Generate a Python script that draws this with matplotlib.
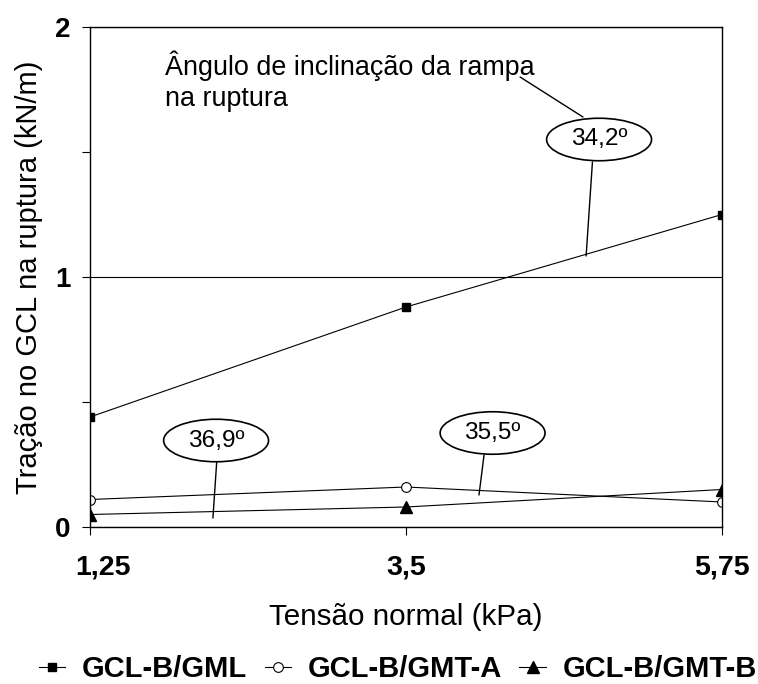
import numpy as np
import matplotlib
matplotlib.use('Agg')
import matplotlib.pyplot as plt
import matplotlib.transforms as mtransforms
from matplotlib.patches import Ellipse

plt.rcParams['font.family'] = ['Liberation Sans', 'DejaVu Sans']

#data
tensao = ['1,25', '3,5', '5,75']    #normal stress (kPa), categorical axis
gml = [0.44, 0.88, 1.25]
gmt_a = [0.11, 0.16, 0.10]
gmt_b = [0.05, 0.08, 0.15]
serie_nomes = ['GCL-B/GML', 'GCL-B/GMT-A', 'GCL-B/GMT-B']

#angle callouts: label, ellipse centre, leader start, leader end (data coords)
angulos = ['34,2º', '36,9º', '35,5º']
elip_xy = [(1.611, 1.55), (0.399, 0.346), (1.274, 0.376)]
lider_ini = [(1.59, 1.46), (0.402, 0.28), (1.247, 0.288)]
lider_fim = [(1.57, 1.084), (0.389, 0.036), (1.231, 0.128)]

fig = plt.figure(figsize=(7.58, 6.84), dpi=100)
ax = fig.add_axes([90/758, 1 - 527/684, 632/758, 500/684])

x = np.arange(len(tensao))
ax.plot(x, gml, '-', color='black', lw=0.8, marker='s', ms=6,
        mfc='black', mec='black', label=serie_nomes[0])
ax.plot(x, gmt_a, '-', color='black', lw=0.8, marker='o', ms=7,
        mfc='white', mec='black', mew=0.8, label=serie_nomes[1])
ax.plot(x, gmt_b, '-', color='black', lw=0.8, marker='^', ms=8,
        mfc='black', mec='black', label=serie_nomes[2])

ax.set_xlim(0, 2)
ax.set_ylim(0, 2)
ax.set_xticks(x)
ax.set_xticklabels(tensao, fontsize=20.5, fontweight='bold')
ax.set_yticks([0, 1, 2])
ax.set_yticklabels(['0', '1', '2'], fontsize=20, fontweight='bold')
ax.set_yticks([0.5, 1.5], minor=True)
ax.tick_params(axis='both', which='both', direction='out', length=6, width=0.8)
ax.tick_params(axis='x', pad=14)
ax.tick_params(axis='y', pad=8)
ax.yaxis.grid(True, which='major', color='black', lw=0.8)
for s in ax.spines.values():
    s.set_linewidth(1.0)

#first x label sits a bit to the right in the original
lab0 = ax.get_xticklabels()[0]
lab0.set_transform(lab0.get_transform() +
                   mtransforms.ScaledTranslation(13/100, 0, fig.dpi_scale_trans))

ax.set_xlabel('Tensão normal (kPa)', fontsize=21.3, labelpad=16)
ax.set_ylabel('Tração no GCL na ruptura (kN/m)', fontsize=21, labelpad=9)

#callout text with leader to the 34,2 ellipse
ax.text(0.237, 1.905, 'Ângulo de inclinação da rampa\nna ruptura', fontsize=19.4,
        ha='left', va='top', linespacing=1.25)
ax.annotate('', xy=(1.56, 1.64), xytext=(1.361, 1.80),
            arrowprops=dict(arrowstyle='-', lw=1.0, color='black',
                            shrinkA=0, shrinkB=0))

for lab, c, p0, p1 in zip(angulos, elip_xy, lider_ini, lider_fim):
    ax.annotate('', xy=p1, xytext=p0,
                arrowprops=dict(arrowstyle='-', lw=1.0, color='black',
                                shrinkA=0, shrinkB=0))
    ax.add_patch(Ellipse(c, 0.332, 0.17, facecolor='white', edgecolor='black',
                         lw=1.2, zorder=4))
    ax.text(c[0], c[1], lab, fontsize=17.6, ha='center', va='center', zorder=5)

fig.legend(loc='center', bbox_to_anchor=(0.525, 0.022), ncol=3, frameon=False,
           prop={'size': 21, 'weight': 'bold'}, handlelength=0.9,
           handletextpad=0.57, columnspacing=0.6, borderpad=0, borderaxespad=0)

fig.savefig('out.png', dpi=100)
